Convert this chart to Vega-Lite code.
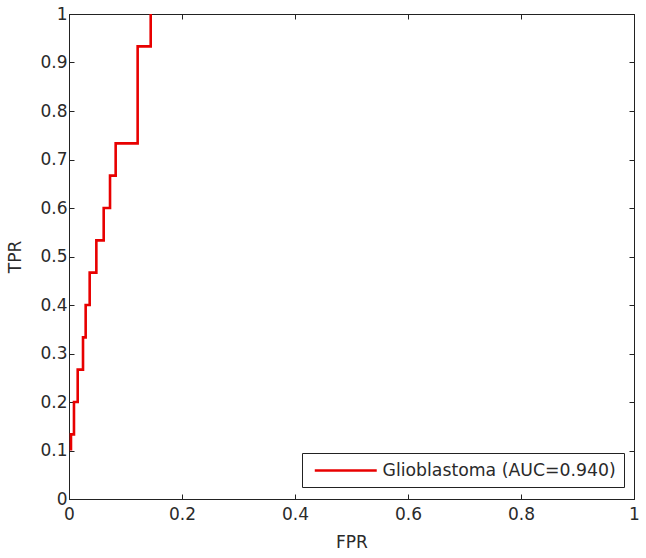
{
  "$schema": "https://vega.github.io/schema/vega-lite/v6.json",
  "width": 565,
  "height": 485,
  "autosize": {"type": "none"},
  "padding": {"left": 69, "top": 14, "right": 12, "bottom": 59},
  "background": "white",
  "config": {
    "font": "DejaVu Sans",
    "view": {"stroke": "#222222", "strokeWidth": 1},
    "axis": {
      "grid": false,
      "domainColor": "#222222",
      "tickColor": "#222222",
      "tickSize": -5,
      "labelFlush": false,
      "labelOverlap": false,
      "labelFontSize": 17,
      "labelColor": "#2a2a2a",
      "titleFontSize": 17,
      "titleFontWeight": "normal",
      "titleColor": "#2a2a2a",
      "labelFont": "DejaVu Sans",
      "titleFont": "DejaVu Sans"
    }
  },
  "data": {
    "values": [
      {"order": 1, "fpr": 0.0035, "tpr": 0.1, "series": "Glioblastoma (AUC=0.940)"},
      {"order": 2, "fpr": 0.0035, "tpr": 0.1333, "series": "Glioblastoma (AUC=0.940)"},
      {"order": 3, "fpr": 0.0088, "tpr": 0.1333, "series": "Glioblastoma (AUC=0.940)"},
      {"order": 4, "fpr": 0.0088, "tpr": 0.2, "series": "Glioblastoma (AUC=0.940)"},
      {"order": 5, "fpr": 0.0154, "tpr": 0.2, "series": "Glioblastoma (AUC=0.940)"},
      {"order": 6, "fpr": 0.0154, "tpr": 0.2667, "series": "Glioblastoma (AUC=0.940)"},
      {"order": 7, "fpr": 0.0248, "tpr": 0.2667, "series": "Glioblastoma (AUC=0.940)"},
      {"order": 8, "fpr": 0.0248, "tpr": 0.3333, "series": "Glioblastoma (AUC=0.940)"},
      {"order": 9, "fpr": 0.0295, "tpr": 0.3333, "series": "Glioblastoma (AUC=0.940)"},
      {"order": 10, "fpr": 0.0295, "tpr": 0.4, "series": "Glioblastoma (AUC=0.940)"},
      {"order": 11, "fpr": 0.0366, "tpr": 0.4, "series": "Glioblastoma (AUC=0.940)"},
      {"order": 12, "fpr": 0.0366, "tpr": 0.4667, "series": "Glioblastoma (AUC=0.940)"},
      {"order": 13, "fpr": 0.0484, "tpr": 0.4667, "series": "Glioblastoma (AUC=0.940)"},
      {"order": 14, "fpr": 0.0484, "tpr": 0.5333, "series": "Glioblastoma (AUC=0.940)"},
      {"order": 15, "fpr": 0.0614, "tpr": 0.5333, "series": "Glioblastoma (AUC=0.940)"},
      {"order": 16, "fpr": 0.0614, "tpr": 0.6, "series": "Glioblastoma (AUC=0.940)"},
      {"order": 17, "fpr": 0.0726, "tpr": 0.6, "series": "Glioblastoma (AUC=0.940)"},
      {"order": 18, "fpr": 0.0726, "tpr": 0.6667, "series": "Glioblastoma (AUC=0.940)"},
      {"order": 19, "fpr": 0.0826, "tpr": 0.6667, "series": "Glioblastoma (AUC=0.940)"},
      {"order": 20, "fpr": 0.0826, "tpr": 0.7333, "series": "Glioblastoma (AUC=0.940)"},
      {"order": 21, "fpr": 0.1215, "tpr": 0.7333, "series": "Glioblastoma (AUC=0.940)"},
      {"order": 22, "fpr": 0.1215, "tpr": 0.9333, "series": "Glioblastoma (AUC=0.940)"},
      {"order": 23, "fpr": 0.1446, "tpr": 0.9333, "series": "Glioblastoma (AUC=0.940)"},
      {"order": 24, "fpr": 0.1446, "tpr": 1.0, "series": "Glioblastoma (AUC=0.940)"}
    ]
  },
  "layer": [
    {
      "mark": {"type": "line", "strokeWidth": 2.6, "clip": true},
      "encoding": {
        "x": {"field": "fpr", "type": "quantitative", "scale": {"domain": [0, 1], "nice": false},
          "axis": {"title": "FPR", "values": [0, 0.2, 0.4, 0.6, 0.8, 1], "format": "~g", "labelPadding": 12, "titlePadding": 12}},
        "y": {"field": "tpr", "type": "quantitative", "scale": {"domain": [0, 1], "nice": false},
          "axis": {"title": "TPR", "values": [0, 0.1, 0.2, 0.3, 0.4, 0.5, 0.6, 0.7, 0.8, 0.9, 1], "format": "~g", "labelPadding": 7, "titlePadding": 15}},
        "color": {"field": "series", "type": "nominal", "scale": {"range": ["#e80000"]},
          "legend": {"title": null, "orient": "none", "legendX": 233, "legendY": 439,
            "strokeColor": "#222222", "fillColor": "white", "padding": 8,
            "symbolType": "M-0.61,0H7.39", "symbolSize": 240, "symbolStrokeWidth": 2.6,
            "labelFontSize": 17.3, "labelColor": "#2a2a2a", "labelOffset": 53.5, "labelLimit": 400, "labelFont": "DejaVu Sans"}},
        "order": {"field": "order", "type": "quantitative"}
      }
    },
    {
      "mark": {"type": "point", "opacity": 0},
      "encoding": {
        "x": {"field": "fpr", "type": "quantitative", "scale": {"domain": [0, 1], "nice": false},
          "axis": {"orient": "top", "title": null, "labels": false, "values": [0, 0.2, 0.4, 0.6, 0.8, 1]}},
        "y": {"field": "tpr", "type": "quantitative", "scale": {"domain": [0, 1], "nice": false},
          "axis": {"orient": "right", "title": null, "labels": false, "values": [0, 0.1, 0.2, 0.3, 0.4, 0.5, 0.6, 0.7, 0.8, 0.9, 1]}}
      }
    }
  ],
  "resolve": {"axis": {"x": "independent", "y": "independent"}}
}
